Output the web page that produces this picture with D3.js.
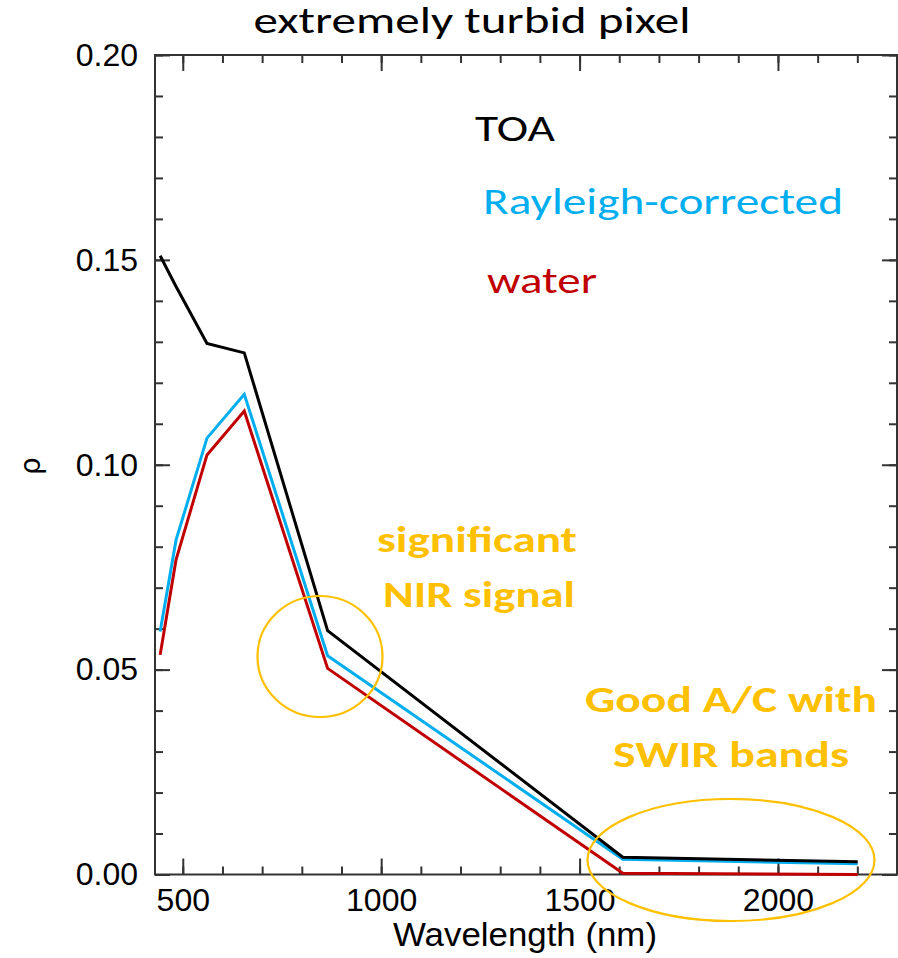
<!DOCTYPE html>
<html>
<head>
<meta charset="utf-8">
<script src="https://cdn.jsdelivr.net/npm/d3@7"></script>
<style>
  html, body { margin: 0; padding: 0; background: #fff; }
  svg { display: block; }
</style>
</head>
<body>
<svg id="chart" width="898" height="958"></svg>
<script>
// ---- data ----
const wavelengths = [443, 483, 561, 655, 865, 1609, 2201];
const toa        = [0.151, 0.1435, 0.1296, 0.1273, 0.0595, 0.0042, 0.0031];
const rayleigh   = [0.0593, 0.0816, 0.1065, 0.1172, 0.0534, 0.0037, 0.0026];
const water      = [0.0536, 0.0768, 0.1024, 0.1131, 0.0503, 0.0003, 0.0000];

const xMajorTicks = [500, 1000, 1500, 2000];
const xMinorTicks = [500, 600, 700, 800, 900, 1000, 1100, 1200, 1300, 1400, 1500, 1600, 1700, 1800, 1900, 2000, 2100, 2200];
const yMajorTicks = [0.00, 0.05, 0.10, 0.15, 0.20];
const yMinorTicks = [0.00,0.01,0.02,0.03,0.04,0.05,0.06,0.07,0.08,0.09,0.10,0.11,0.12,0.13,0.14,0.15,0.16,0.17,0.18,0.19,0.20];

const seriesNames = ["TOA", "Rayleigh-corrected", "water"];
const seriesColors = ["#000000", "#00AEEF", "#C00000"];
const title = "extremely turbid pixel";
const xLabel = "Wavelength (nm)";
const yLabel = "ρ";
const noteNIR = ["significant", "NIR signal"];
const noteSWIR = ["Good A/C with", "SWIR bands"];

// ---- layout ----
const L = 155, R = 897, T = 55, B = 874.5;
const svg = d3.select("#chart");
const x = d3.scaleLinear().domain([430, 2300]).range([L, R]);
const y = d3.scaleLinear().domain([0, 0.2]).range([B, T]);

const axisFont = "'Liberation Sans', Arial, Helvetica, sans-serif";
const calibri = "Carlito, Calibri, Lato, 'Open Sans', sans-serif";
const axisColor = "#333";

// frame
svg.append("rect").attr("x", L).attr("y", T).attr("width", R - L).attr("height", B - T)
  .attr("fill", "none").attr("stroke", axisColor).attr("stroke-width", 2);

function styleAxis(g) {
  g.select(".domain").remove();
  g.selectAll(".tick line").attr("stroke", axisColor).attr("stroke-width", 2);
  g.selectAll(".tick text").attr("fill", "#000").style("font-family", axisFont).style("font-size", "32px");
}

// minor ticks on all sides
svg.append("g").attr("transform", `translate(0,${B})`)
  .call(d3.axisBottom(x).tickValues(xMinorTicks).tickSize(-8).tickSizeOuter(0).tickFormat(""))
  .call(styleAxis);
svg.append("g").attr("transform", `translate(0,${T})`)
  .call(d3.axisTop(x).tickValues(xMinorTicks).tickSize(-8).tickSizeOuter(0).tickFormat(""))
  .call(styleAxis);
svg.append("g").attr("transform", `translate(${L},0)`)
  .call(d3.axisLeft(y).tickValues(yMinorTicks).tickSize(-8).tickSizeOuter(0).tickFormat(""))
  .call(styleAxis);
svg.append("g").attr("transform", `translate(${R},0)`)
  .call(d3.axisRight(y).tickValues(yMinorTicks).tickSize(-8).tickSizeOuter(0).tickFormat(""))
  .call(styleAxis);

// major ticks
svg.append("g").attr("transform", `translate(0,${B})`)
  .call(d3.axisBottom(x).tickValues(xMajorTicks).tickSize(-16).tickSizeOuter(0).tickPadding(14).tickFormat(d3.format("d")))
  .call(styleAxis);
svg.append("g").attr("transform", `translate(0,${T})`)
  .call(d3.axisTop(x).tickValues(xMajorTicks).tickSize(-16).tickSizeOuter(0).tickFormat(""))
  .call(styleAxis);
svg.append("g").attr("transform", `translate(${L},0)`)
  .call(d3.axisLeft(y).tickValues(yMajorTicks).tickSize(-15).tickSizeOuter(0).tickPadding(17).tickFormat(d3.format(".2f")))
  .call(styleAxis);
svg.append("g").attr("transform", `translate(${R},0)`)
  .call(d3.axisRight(y).tickValues(yMajorTicks).tickSize(-15).tickSizeOuter(0).tickFormat(""))
  .call(styleAxis);

// lines
const line = d3.line().x((d, i) => x(wavelengths[i])).y(d => y(d));
const allSeries = [toa, rayleigh, water];
[2, 1, 0].forEach(k => {
  svg.append("path").datum(allSeries[k])
    .attr("d", line)
    .attr("fill", "none")
    .attr("stroke", seriesColors[k])
    .attr("stroke-width", 3)
    .attr("stroke-linejoin", "miter");
});

function fitText(sel, w) {
  const len = sel.node().getComputedTextLength();
  if (len > 0) sel.attr("textLength", w).attr("lengthAdjust", "spacingAndGlyphs");
}

// axis labels
const xl = svg.append("text").attr("x", 525).attr("y", 946).attr("text-anchor", "middle")
  .style("font-family", axisFont).style("font-size", "33px").text(xLabel);
fitText(xl, 264);
svg.append("text").attr("transform", "translate(40,466) rotate(-90)").attr("text-anchor", "middle")
  .style("font-family", "'DejaVu Sans', sans-serif").style("font-size", "28px").text(yLabel);

// title
const tt = svg.append("text").attr("x", 472).attr("y", 33).attr("text-anchor", "middle")
  .style("font-family", calibri).style("font-size", "36px").attr("fill", "#000").text(title);
fitText(tt, 437);

// legend texts
const legendPos = [[515, 141, 80], [663, 214, 360], [542, 293, 110]];
seriesNames.forEach((n, i) => {
  const t = svg.append("text").attr("x", legendPos[i][0]).attr("y", legendPos[i][1])
    .attr("text-anchor", "middle").style("font-family", calibri).style("font-size", "37px")
    .attr("fill", seriesColors[i] === "#000000" ? "#000" : seriesColors[i]).text(n);
  fitText(t, legendPos[i][2]);
});

// annotations
const orange = "#FFC000";
const notePos = [[477, 552, 200], [479, 607, 192]];
noteNIR.forEach((n, i) => {
  const t = svg.append("text").attr("x", notePos[i][0]).attr("y", notePos[i][1])
    .attr("text-anchor", "middle").style("font-family", calibri).style("font-size", "37px")
    .style("font-weight", "bold").attr("fill", orange).text(n);
  fitText(t, notePos[i][2]);
});
const notePos2 = [[731, 712, 292], [731, 767, 236]];
noteSWIR.forEach((n, i) => {
  const t = svg.append("text").attr("x", notePos2[i][0]).attr("y", notePos2[i][1])
    .attr("text-anchor", "middle").style("font-family", calibri).style("font-size", "37px")
    .style("font-weight", "bold").attr("fill", orange).text(n);
  fitText(t, notePos2[i][2]);
});

// ellipses
svg.append("ellipse").attr("cx", 320).attr("cy", 656.5).attr("rx", 62.5).attr("ry", 60.5)
  .attr("fill", "none").attr("stroke", orange).attr("stroke-width", 2.2);
svg.append("ellipse").attr("cx", 731).attr("cy", 860).attr("rx", 143.5).attr("ry", 61)
  .attr("fill", "none").attr("stroke", orange).attr("stroke-width", 2.2);
</script>
</body>
</html>
